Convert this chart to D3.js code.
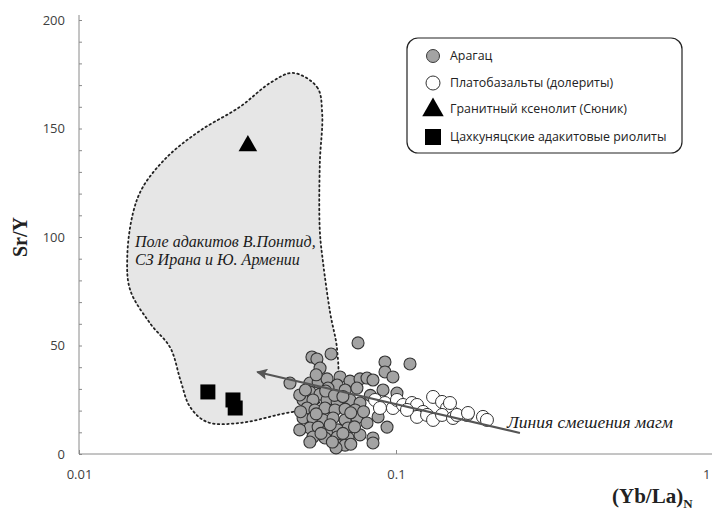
<!DOCTYPE html>
<html>
<head>
<meta charset="utf-8">
<script src="https://cdn.jsdelivr.net/npm/d3@7"></script>
<style>
  body { margin: 0; background: #fff; }
  svg { display: block; }
  .tick text { font-family: "Open Sans", sans-serif; font-size: 13px; fill: #404040; }
  .domain, .tick line { stroke: #8a8a8a; }
</style>
</head>
<body>
<div id="chart"></div>
<script>
const W = 712, H = 512;

// Арагац: [(Yb/La)N, Sr/Y]
const aragats = [
  [0.0759, 51.2], [0.0543, 44.7], [0.0563, 43.8], [0.0624, 46.1], [0.0576, 39.6],
  [0.0923, 42.4], [0.1107, 41.5], [0.0923, 37.8], [0.0978, 35.5], [0.0463, 32.7],
  [0.0535, 32.7], [0.0568, 33.2], [0.0606, 34.6], [0.0666, 35.5], [0.0716, 33.6],
  [0.0770, 34.6], [0.0810, 35.0], [0.0846, 34.1], [0.0652, 31.8], [0.0610, 30.4],
  [0.0535, 28.6], [0.0576, 27.6], [0.0691, 29.5], [0.0753, 30.4], [0.0910, 29.5],
  [0.1007, 28.1], [0.0509, 24.9], [0.0547, 24.9], [0.0606, 24.9], [0.0652, 24.0],
  [0.0716, 24.9], [0.0770, 23.5], [0.0524, 21.2], [0.0555, 20.3], [0.0597, 21.2],
  [0.0642, 20.3], [0.0691, 20.7], [0.0743, 20.3], [0.0890, 21.7], [0.0509, 16.6],
  [0.0547, 16.6], [0.0589, 15.7], [0.0633, 16.6], [0.0691, 15.7], [0.0753, 16.6],
  [0.0810, 14.3], [0.0878, 17.1], [0.0937, 12.4], [0.0535, 12.0], [0.0568, 12.4],
  [0.0610, 11.1], [0.0656, 11.1], [0.0706, 12.0], [0.0547, 7.8], [0.0597, 7.4],
  [0.0652, 7.8], [0.0706, 7.4], [0.0770, 8.8], [0.0846, 7.4], [0.0656, 4.1],
  [0.0691, 4.1], [0.0535, 5.5], [0.0647, 2.8], [0.0846, 5.1], [0.0497, 27.2],
  [0.0497, 11.1], [0.0518, 29.5], [0.0560, 36.5], [0.0600, 29.0], [0.0640, 27.0],
  [0.0680, 26.5], [0.0720, 19.0], [0.0620, 13.5], [0.0580, 9.5], [0.0680, 9.5],
  [0.0740, 12.5], [0.0790, 19.5], [0.0830, 27.0], [0.0560, 18.5], [0.0500, 19.5],
  [0.0630, 5.5], [0.0720, 4.5]
];

// Платобазальты (долериты)
const plateau = [
  [0.0859, 24.9], [0.0923, 23.5], [0.0978, 21.2], [0.1007, 24.9], [0.1052, 22.6],
  [0.1123, 23.5], [0.1165, 22.6], [0.1217, 19.4], [0.1309, 26.3], [0.1397, 24.0],
  [0.1449, 21.2], [0.1502, 19.4], [0.1165, 17.1], [0.1253, 18.0], [0.1309, 15.7],
  [0.1397, 18.0], [0.1513, 16.6], [0.1675, 18.0], [0.1881, 17.1], [0.1936, 15.7],
  [0.1083, 20.3], [0.0890, 21.2], [0.1480, 23.5], [0.1557, 18.0], [0.1687, 18.9]
];

// Гранитный ксенолит (Сюник)
const xenolith = [[0.0341, 142]];

// Цахкуняцские адакитовые риолиты
const rhyolites = [[0.0255, 28.6], [0.0306, 24.9], [0.0311, 21.2]];

// outline of the adakite field
const adakiteField = [
  [0.0473, 175.6], [0.0564, 169], [0.0585, 157], [0.0575, 134], [0.0575, 103],
  [0.0589, 88], [0.0620, 65], [0.0652, 48], [0.0647, 32], [0.0556, 22.6],
  [0.0422, 18], [0.0322, 14.3], [0.0254, 14.7], [0.0224, 21.7], [0.0209, 34],
  [0.0194, 49], [0.0168, 60], [0.0145, 75.6], [0.0142, 91], [0.0148, 111],
  [0.0159, 123], [0.0190, 137], [0.0241, 149], [0.0322, 160], [0.0401, 171]
];

// mixing line: from -> to (arrow head)
const mixingLine = [[0.246, 9.7], [0.0365, 37.8]];

const xTicks = [0.01, 0.1, 1];
const yTicks = d3.range(0, 201, 10);

const legendItems = [
  { label: "Арагац", shape: "grayCircle" },
  { label: "Платобазальты (долериты)", shape: "whiteCircle" },
  { label: "Гранитный ксенолит (Сюник)", shape: "triangle" },
  { label: "Цахкуняцские адакитовые риолиты", shape: "square" }
];

const x = d3.scaleLog().domain([0.01, 1]).range([79, 713]);
const y = d3.scaleLinear().domain([0, 200]).range([454, 20]);

const svg = d3.select("#chart").append("svg")
  .attr("width", W).attr("height", H);

const defs = svg.append("defs");
defs.append("marker")
  .attr("id", "arrow")
  .attr("viewBox", "0 0 10 10")
  .attr("refX", 9).attr("refY", 5)
  .attr("markerWidth", 6).attr("markerHeight", 5)
  .attr("markerUnits", "strokeWidth")
  .attr("orient", "auto")
  .append("path")
  .attr("d", "M0,0 L10,5 L0,10 L2,5 Z")
  .attr("fill", "#555");

// field
svg.append("path")
  .datum(adakiteField)
  .attr("d", d3.line().x(d => x(d[0])).y(d => y(d[1])).curve(d3.curveCatmullRomClosed.alpha(0.5)))
  .attr("fill", "#e6e6e6")
  .attr("stroke", "#222")
  .attr("stroke-width", 1.8)
  .attr("stroke-dasharray", "1.5,3.2")
  .attr("stroke-linecap", "round");

const fieldText = svg.append("text")
  .attr("font-family", "'Liberation Serif', serif")
  .attr("font-style", "italic")
  .attr("font-size", 16)
  .attr("fill", "#1a1a1a");
fieldText.append("tspan").attr("x", x(0.01502)).attr("y", y(95.4)).text("Поле адакитов В.Понтид,");
fieldText.append("tspan").attr("x", x(0.01502)).attr("y", y(87.1)).text("СЗ Ирана и Ю. Армении");

// axes
const xAxis = svg.append("g")
  .attr("transform", `translate(0,${y(0)})`)
  .call(d3.axisBottom(x).tickValues(xTicks).tickSize(-4).tickPadding(16)
    .tickFormat(d => d === 1 ? "1" : String(d)));
xAxis.select(".domain").attr("d", `M${x(0.01)},0H${W}`);
// the "1" tick sits at the right edge; keep its label inside the picture
xAxis.selectAll(".tick text").filter(d => d === 1).attr("text-anchor", "end").attr("dx", -3);

svg.append("g")
  .attr("transform", `translate(${x(0.01)},0)`)
  .call(d3.axisLeft(y).tickValues(yTicks).tickSize(-3).tickPadding(14)
    .tickFormat(d => d % 50 === 0 ? d : ""))
  .call(g => g.select(".domain").attr("d", `M0,${y(200) - 5}V${y(0)}`));

// points
svg.append("g").selectAll("circle")
  .data(aragats).join("circle")
  .attr("cx", d => x(d[0])).attr("cy", d => y(d[1])).attr("r", 6)
  .attr("fill", "#a3a3a3").attr("stroke", "#333").attr("stroke-width", 1.1);

svg.append("g").selectAll("circle")
  .data(plateau).join("circle")
  .attr("cx", d => x(d[0])).attr("cy", d => y(d[1])).attr("r", 6.5)
  .attr("fill", "#fff").attr("stroke", "#333").attr("stroke-width", 1);

const tri = d3.symbol().type(d3.symbolTriangle).size(150);
svg.append("g").selectAll("path")
  .data(xenolith).join("path")
  .attr("transform", d => `translate(${x(d[0])},${y(d[1])})`)
  .attr("d", tri).attr("fill", "#000");

svg.append("g").selectAll("rect")
  .data(rhyolites).join("rect")
  .attr("x", d => x(d[0]) - 7.5).attr("y", d => y(d[1]) - 7.5)
  .attr("width", 15).attr("height", 15).attr("fill", "#000");

// mixing line arrow
svg.append("line")
  .attr("x1", x(mixingLine[0][0])).attr("y1", y(mixingLine[0][1]))
  .attr("x2", x(mixingLine[1][0])).attr("y2", y(mixingLine[1][1]))
  .attr("stroke", "#555").attr("stroke-width", 2.2)
  .attr("marker-end", "url(#arrow)");

svg.append("text")
  .attr("x", x(0.2239)).attr("y", y(11.8))
  .attr("font-family", "'Liberation Serif', serif")
  .attr("font-style", "italic")
  .attr("font-size", 17.5)
  .attr("fill", "#1a1a1a")
  .text("Линия смешения магм");

// axis titles
svg.append("text")
  .attr("transform", `translate(27,${y(100)}) rotate(-90)`)
  .attr("text-anchor", "middle")
  .attr("font-family", "'Liberation Serif', serif")
  .attr("font-weight", "bold")
  .attr("font-size", 20)
  .attr("fill", "#222")
  .text("Sr/Y");

const xt = svg.append("text")
  .attr("x", 612).attr("y", 503)
  .attr("font-family", "'Liberation Serif', serif")
  .attr("font-weight", "bold")
  .attr("font-size", 21)
  .attr("fill", "#222");
xt.append("tspan").text("(Yb/La)");
xt.append("tspan").attr("font-size", 13).attr("dy", 5).text("N");

// legend
const lg = svg.append("g").attr("transform", "translate(407,38)");
lg.append("rect")
  .attr("width", 275).attr("height", 115).attr("rx", 11)
  .attr("fill", "#fff").attr("stroke", "#222").attr("stroke-width", 1.2);

const rowY = [18, 45, 71, 99];
legendItems.forEach((it, i) => {
  const g = lg.append("g").attr("transform", `translate(26,${rowY[i]})`);
  if (it.shape === "grayCircle") {
    g.append("circle").attr("r", 6.5).attr("fill", "#a3a3a3").attr("stroke", "#3a3a3a");
  } else if (it.shape === "whiteCircle") {
    g.append("circle").attr("r", 7).attr("fill", "#fff").attr("stroke", "#333");
  } else if (it.shape === "triangle") {
    g.append("path").attr("d", d3.symbol().type(d3.symbolTriangle).size(200)).attr("transform", "translate(0,1)").attr("fill", "#000");
  } else {
    g.append("rect").attr("x", -8).attr("y", -8).attr("width", 16).attr("height", 16).attr("fill", "#000");
  }
  g.append("text")
    .attr("x", 17).attr("dy", "0.35em")
    .attr("font-family", "'Open Sans', sans-serif")
    .attr("font-size", 12.4)
    .attr("fill", "#222")
    .text(it.label);
});
</script>
</body>
</html>
